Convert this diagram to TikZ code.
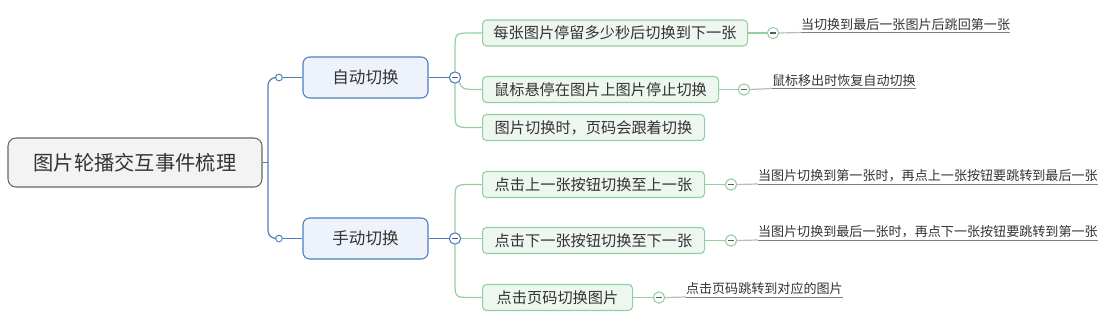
\documentclass[tikz,border=0pt]{standalone}
\usepackage{fontspec}
\setmainfont{Noto Sans CJK SC}
\definecolor{txt}{HTML}{333333}
\definecolor{rootfill}{HTML}{F3F3F3}
\definecolor{rootdraw}{HTML}{666666}
\definecolor{bl}{HTML}{4A7EC0}
\definecolor{blfill}{HTML}{EEF3FB}
\definecolor{gr}{HTML}{92D0A2}
\definecolor{grfill}{HTML}{EEF6F0}
\definecolor{lgrey}{HTML}{BBBBBB}
\definecolor{ulgrey}{HTML}{7F7F7F}
\tikzset{
  rootbox/.style={draw=rootdraw, fill=rootfill, rounded corners=6pt, line width=0.8pt,
    minimum width=190.5pt, minimum height=36.75pt, inner sep=0pt, text=txt,
    font=\fontsize{15.2pt}{18pt}\selectfont},
  topicbox/.style={draw=bl, fill=blfill, rounded corners=5pt, line width=0.8pt,
    minimum width=93.75pt, minimum height=30.75pt, inner sep=0pt, text=txt,
    font=\fontsize{12.4pt}{15pt}\selectfont},
  subbox/.style={draw=gr, fill=grfill, rounded corners=3pt, line width=0.8pt,
    minimum height=19.5pt, inner sep=0pt, anchor=west, text=txt,
    font=\fontsize{11.4pt}{14pt}\selectfont},
  note/.style={anchor=south west, inner sep=0pt, outer sep=0pt, text=txt,
    font=\fontsize{9.8pt}{12pt}\selectfont, minimum height=12pt, text depth=1pt},
  smallcirc/.style={circle, draw=bl, fill=white, line width=0.7pt, minimum size=5pt, inner sep=0pt},
  collapse/.style={circle, draw=#1, fill=white, line width=0.8pt, minimum size=8.5pt, inner sep=0pt,
    path picture={\draw[line width=1.1pt, txt!80] ([xshift=-2pt]path picture bounding box.center) -- ([xshift=2pt]path picture bounding box.center);}},
  bline/.style={draw=bl, line width=0.9pt},
  gline/.style={draw=gr, line width=0.9pt},
  uline/.style={draw=ulgrey, line width=0.6pt},
  lline/.style={draw=lgrey, line width=0.9pt},
}
\begin{document}
\begin{tikzpicture}[x=0.75pt, y=-0.75pt]
\useasboundingbox (0,0) rectangle (1111,319);
% root and topics
\node[rootbox] (root) at (135,162.5) {图片轮播交互事件梳理};
\node[topicbox] (auto) at (365.5,77.5) {自动切换};
\node[topicbox] (manual) at (365.5,238.5) {手动切换};
\node[smallcirc] (s1) at (279,77.5) {};
\node[smallcirc] (s2) at (279,238.5) {};
\coordinate (trunk) at (268,162.5);
\draw[bline] (root.east) -- (trunk);
\draw[bline, rounded corners=6pt] (s1.west) -| (trunk) |- (s2.west);
\draw[bline] (s1.east) -- (auto.west);
\draw[bline] (s2.east) -- (manual.west);
\node[collapse=bl] (c1) at (455,77.5) {};
\node[collapse=bl] (c2) at (455,238.5) {};
\draw[bline] (auto.east) -- (c1.west);
\draw[bline] (manual.east) -- (c2.west);
% sub topics (auto)
\node[subbox, minimum width=198.75pt] (g1) at (482,33) {每张图片停留多少秒后切换到下一张};
\node[subbox, minimum width=177pt] (g2) at (482,89.5) {鼠标悬停在图片上图片停止切换};
\node[subbox, minimum width=166.5pt] (g3) at (482,127.5) {图片切换时，页码会跟着切换};
\draw[gline] (c1.north) -- (455,50) .. controls (455,33) .. (472,33) -- (g1.west);
\draw[gline] (c1.south east) .. controls (462,89.5) .. (g2.west);
\draw[gline] (c1.south) -- (455,111) .. controls (455,127.5) .. (472,127.5) -- (g3.west);
% sub topics (manual)
\node[subbox, minimum width=166.5pt] (h1) at (482,184.5) {点击上一张按钮切换至上一张};
\node[subbox, minimum width=166.5pt] (h2) at (482,240.5) {点击下一张按钮切换至下一张};
\node[subbox, minimum width=112.5pt] (h3) at (482,297.5) {点击页码切换图片};
\draw[gline] (c2.north) -- (455,201) .. controls (455,184.5) .. (472,184.5) -- (h1.west);
\draw[gline] (c2.east) -- (h2.west |- c2.east);
\draw[gline] (c2.south) -- (455,281) .. controls (455,297.5) .. (472,297.5) -- (h3.west);
% collapse circles for notes
\node[collapse=gr] (d1) at (773,33) {};
\node[collapse=gr] (d2) at (744,89.5) {};
\node[collapse=gr] (d3) at (731,184.5) {};
\node[collapse=gr] (d4) at (731,240.5) {};
\node[collapse=gr] (d5) at (659,297.5) {};
\draw[gline] (g1.east) -- (d1.west);
\draw[gline] (g2.east) -- (d2.west);
\draw[gline] (h1.east) -- (d3.west);
\draw[gline] (h2.east) -- (d4.west);
\draw[gline] (h3.east) -- (d5.west);
% notes
\node[note] (n1) at (801,32.5) {当切换到最后一张图片后跳回第一张};
\node[note] (n2) at (772,88.5) {鼠标移出时恢复自动切换};
\node[note] (n3) at (758,184) {当图片切换到第一张时，再点上一张按钮要跳转到最后一张};
\node[note] (n4) at (758,240) {当图片切换到最后一张时，再点下一张按钮要跳转到第一张};
\node[note] (n5) at (686,297) {点击页码跳转到对应的图片};
\foreach \d/\n in {d1/n1, d2/n2, d3/n3, d4/n4, d5/n5} {
  \draw[lline] (\d.east) -- (\n.south west);
  \draw[uline] (\n.south west) -- (\n.south east);
}
\end{tikzpicture}
\end{document}
